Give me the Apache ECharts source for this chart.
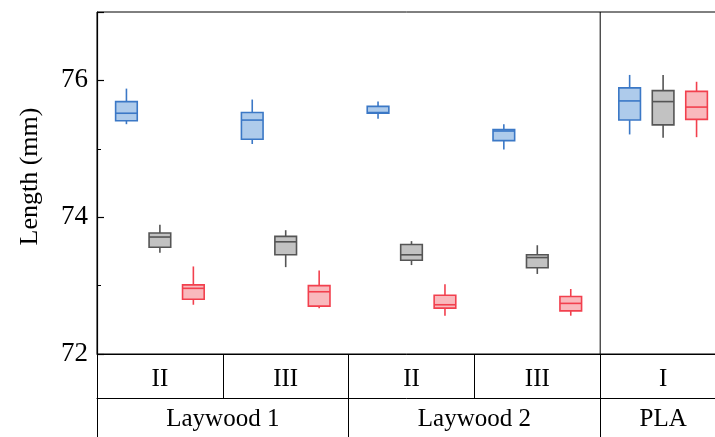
<!DOCTYPE html>
<html>
<head>
<meta charset="utf-8">
<script src="https://cdn.jsdelivr.net/npm/echarts@6/dist/echarts.min.js"></script>
<style>html,body{margin:0;padding:0;background:#fff;}#c{width:715px;height:437px;}</style>
</head>
<body>
<div id="c"></div>
<script>
// ---- data ----
const categories = ['II', 'III', 'II', 'III', 'I'];
const groupNames = ['Laywood 1', 'Laywood 2', 'PLA'];
const groupSpans = [2, 2, 1];
const yTicks = [72, 74, 76];
// each box: [min, q1, median, q3, max]
const blueBoxes = [
  [75.36, 75.41, 75.52, 75.69, 75.88],
  [75.07, 75.14, 75.42, 75.53, 75.72],
  [75.44, 75.52, 75.53, 75.62, 75.69],
  [74.99, 75.12, 75.26, 75.28, 75.36],
  [75.21, 75.42, 75.70, 75.89, 76.08]
];
const grayBoxes = [
  [73.48, 73.56, 73.71, 73.77, 73.89],
  [73.27, 73.45, 73.64, 73.72, 73.81],
  [73.30, 73.37, 73.45, 73.60, 73.65],
  [73.17, 73.26, 73.41, 73.45, 73.59],
  [75.16, 75.35, 75.69, 75.85, 76.08]
];
const redBoxes = [
  [72.72, 72.80, 72.96, 73.01, 73.28],
  [72.67, 72.70, 72.91, 73.00, 73.22],
  [72.56, 72.67, 72.72, 72.86, 73.02],
  [72.56, 72.63, 72.74, 72.84, 72.95],
  [75.17, 75.43, 75.61, 75.84, 75.98]
];

// ---- derived ----
const groupBounds = [0];
groupSpans.forEach(s => groupBounds.push(groupBounds[groupBounds.length - 1] + s));
const groupCenters = groupSpans.map((s, i) => groupBounds[i] + s / 2);
const nCat = categories.length;
const yMin = yTicks[0], yMax = 77;

const FONT = 'Liberation Serif';

function makeRender(offsetFrac, fill, stroke) {
  return function (params, api) {
    const idx = api.value(0);
    const band = api.size([1, 0])[0];
    const cx = api.coord([idx, yMin])[0] + offsetFrac * band;
    const hw = band * 0.086;
    const y = k => api.coord([idx, api.value(k)])[1];
    const lo = y(1), q1 = y(2), med = y(3), q3 = y(4), hi = y(5);
    const lw = 1.6;
    return {
      type: 'group',
      children: [
        { type: 'line', shape: { x1: cx, y1: hi, x2: cx, y2: q3 }, style: { stroke: stroke, lineWidth: lw } },
        { type: 'line', shape: { x1: cx, y1: q1, x2: cx, y2: lo }, style: { stroke: stroke, lineWidth: lw } },
        { type: 'rect', shape: { x: cx - hw, y: q3, width: 2 * hw, height: q1 - q3 }, style: { fill: fill, stroke: stroke, lineWidth: lw } },
        { type: 'line', shape: { x1: cx - hw, y1: med, x2: cx + hw, y2: med }, style: { stroke: stroke, lineWidth: lw } }
      ]
    };
  };
}

function boxSeries(name, boxes, offsetFrac, fill, stroke) {
  return {
    type: 'custom',
    name: name,
    xAxisIndex: 0,
    yAxisIndex: 0,
    renderItem: makeRender(offsetFrac, fill, stroke),
    encode: { x: 0, y: [1, 2, 3, 4, 5] },
    data: boxes.map((b, i) => [i].concat(b)),
    z: 5
  };
}

const chart = echarts.init(document.getElementById('c'));
chart.setOption({
  animation: false,
  grid: {
    left: 97, top: 12, right: -11, bottom: 83,
    containLabel: false,
    outerBoundsMode: 'none',
    show: true, borderColor: '#000', borderWidth: 1, backgroundColor: 'transparent'
  },
  xAxis: [
    {
      type: 'category',
      data: categories,
      position: 'bottom',
      boundaryGap: true,
      axisLine: { show: true, lineStyle: { color: '#000', width: 1 } },
      axisTick: { show: true, inside: false, length: 44, interval: 0, alignWithLabel: false, lineStyle: { color: '#000', width: 1 } },
      axisLabel: { interval: 0, margin: 13, color: '#000', fontFamily: FONT, fontSize: 25 },
      splitLine: { show: false }
    },
    {
      type: 'value',
      min: 0, max: nCat,
      position: 'bottom',
      offset: 44,
      axisLine: { show: true, lineStyle: { color: '#000', width: 1 } },
      axisTick: { show: true, inside: false, length: 45, customValues: groupBounds, lineStyle: { color: '#000', width: 1 } },
      axisLabel: {
        show: true, margin: 9, color: '#000', fontFamily: FONT, fontSize: 25,
        customValues: groupCenters,
        formatter: function (v) {
          const i = groupCenters.findIndex(c => Math.abs(c - v) < 1e-6);
          return i >= 0 ? groupNames[i] : '';
        }
      },
      splitLine: { show: false }
    }
  ],
  yAxis: {
    type: 'value',
    min: yMin, max: yMax, interval: 2,
    name: 'Length (mm)',
    nameLocation: 'middle',
    nameGap: 54,
    nameTextStyle: { color: '#000', fontFamily: FONT, fontSize: 26, padding: [0, 0, 0, 13] },
    axisLine: { show: true, lineStyle: { color: '#000', width: 1.2 } },
    axisTick: { show: true, inside: true, length: 7, lineStyle: { color: '#000', width: 1.2 } },
    minorTick: { show: true, splitNumber: 2, length: 4, lineStyle: { color: '#000', width: 1 } },
    axisLabel: { margin: 9, color: '#000', fontFamily: FONT, fontSize: 27, showMaxLabel: false },
    splitLine: { show: false }
  },
  series: [
    boxSeries('blue', blueBoxes, -0.266, '#aecbeb', '#3b78c6'),
    boxSeries('gray', grayBoxes, 0, '#c2c2c2', '#555555'),
    boxSeries('red', redBoxes, 0.266, '#f9b9bd', '#f2404e'),
    {
      type: 'line',
      name: 'divider',
      xAxisIndex: 1,
      yAxisIndex: 0,
      data: [[groupBounds[groupBounds.length - 2], yMin], [groupBounds[groupBounds.length - 2], yMax]],
      symbol: 'none',
      lineStyle: { color: '#000', width: 1 },
      silent: true,
      z: 3
    }
  ]
});
</script>
</body>
</html>
